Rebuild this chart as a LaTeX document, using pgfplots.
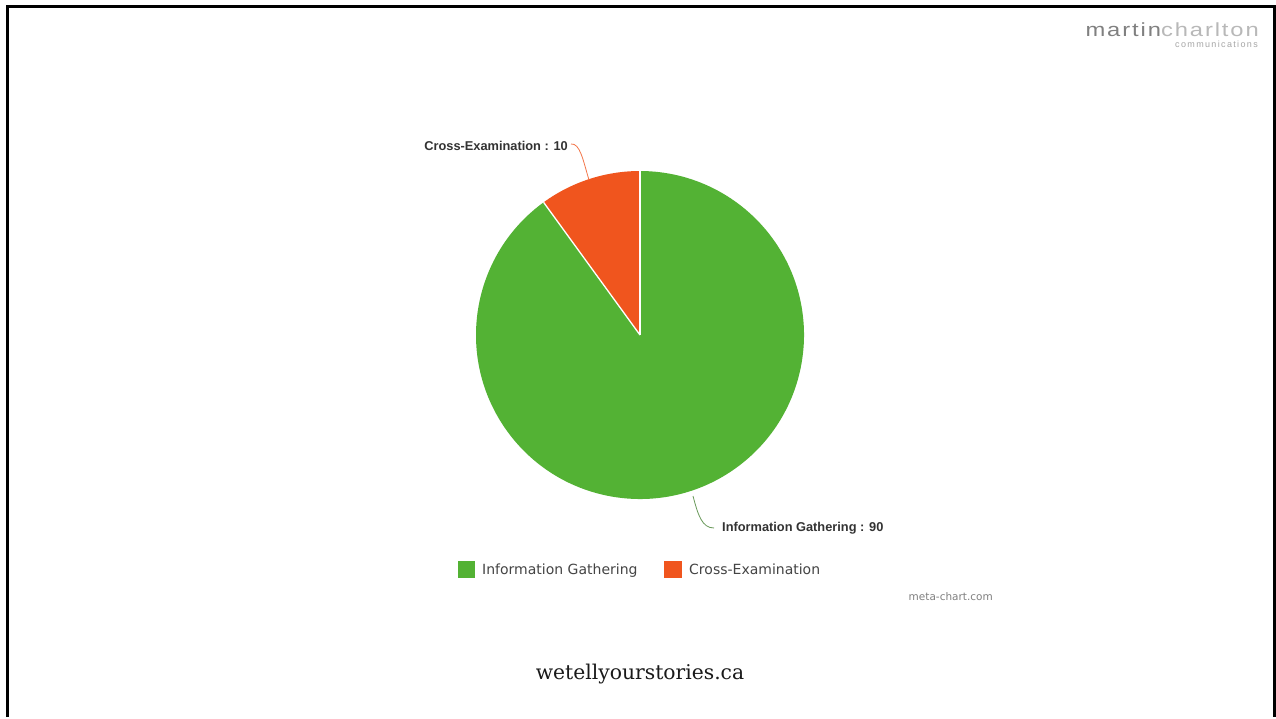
\documentclass[border=0pt]{standalone}
\usepackage{pgfplots}
\pgfplotsset{compat=1.18}
\usepackage{graphicx}
\usepackage{fontspec}
\setmainfont{Liberation Sans}
\newfontfamily\dejavu{DejaVu Sans}
\newfontfamily\serifface{DejaVu Serif}
\newfontfamily\spaced[LetterSpace=15]{Liberation Sans}
\newfontfamily\logofont[LetterSpace=8]{Liberation Sans}
\definecolor{pgreen}{HTML}{53B234}
\definecolor{porange}{HTML}{F0551E}
\definecolor{labtext}{HTML}{333333}
\definecolor{legtext}{HTML}{444444}
% data
\def\vInfo{90}
\def\vCross{10}
\pgfmathsetmacro{\total}{\vInfo+\vCross}
\pgfmathsetmacro{\aA}{90}
\pgfmathsetmacro{\aB}{90+360*\vCross/\total}
\pgfmathsetmacro{\aC}{90+360}
\begin{document}
\begin{tikzpicture}
\begin{axis}[
  width=1276pt, height=717pt, scale only axis,
  xmin=0, xmax=1276, ymin=0, ymax=717, y dir=reverse,
  axis lines=none, clip=false, ticks=none,
]
\fill[white] (axis cs:0,0) rectangle (axis cs:1276,717);
% frame
\draw[black, line width=3pt] (axis cs:7.5,717) -- (axis cs:7.5,6.5) -- (axis cs:1274,6.5) -- (axis cs:1274,717);
% pie
\fill[porange] (axis cs:640,335) -- ++(\aA:164pt) arc[start angle=\aA, end angle=\aB, radius=164pt] -- cycle;
\fill[pgreen] (axis cs:640,335) -- ++(\aB:164pt) arc[start angle=\aB, end angle=\aC, radius=164pt] -- cycle;
\draw[white, line width=1.3pt] (axis cs:640,335) -- ++(\aA:164pt);
\draw[white, line width=1.3pt] (axis cs:640,335) -- ++(\aB:164pt);
% leader lines
\draw[porange!80, line width=0.8pt] (axis cs:571,144) .. controls (axis cs:580,143) and (axis cs:583,160) .. (axis cs:589,180);
\draw[pgreen!50!gray, line width=0.8pt] (axis cs:693,496) .. controls (axis cs:698,515) and (axis cs:702,528) .. (axis cs:714,528);
% labels
\node[anchor=east, inner sep=0pt, text=labtext, font=\bfseries\fontsize{12.8}{14}\selectfont] at (axis cs:568,146) {Cross-Examination : 10};
\node[anchor=west, inner sep=0pt, text=labtext, font=\bfseries\fontsize{12.8}{14}\selectfont] at (axis cs:722,528) {Information Gathering : 90};
% legend
\fill[pgreen] (axis cs:458,561) rectangle (axis cs:475,578);
\fill[porange] (axis cs:664,561) rectangle (axis cs:682,578);
\node[anchor=base west, inner sep=0pt, text=legtext, font=\dejavu\fontsize{14}{16}\selectfont] at (axis cs:482,574.5) {Information Gathering};
\node[anchor=base west, inner sep=0pt, text=legtext, font=\dejavu\fontsize{14}{16}\selectfont] at (axis cs:689,574.5) {Cross-Examination};
\node[anchor=east, inner sep=0pt, text=gray, font=\dejavu\fontsize{10.5}{12}\selectfont] at (axis cs:993,597) {meta-chart.com};
% footer
\node[inner sep=0pt, text=black!90, font=\serifface\fontsize{20.3}{24}\selectfont] at (axis cs:640,674) {wetellyourstories.ca};
% logo
\node[anchor=base east, inner sep=0pt, font=\logofont\fontsize{19}{21}\selectfont] at (axis cs:1259,36) {\scalebox{1.25}[1]{\textcolor{black!50}{martin}\textcolor{black!28}{charlton}}};
\node[anchor=base east, inner sep=0pt, text=black!35, font=\spaced\fontsize{9}{10}\selectfont] at (axis cs:1258,47) {communications};
\end{axis}
\end{tikzpicture}
\end{document}
